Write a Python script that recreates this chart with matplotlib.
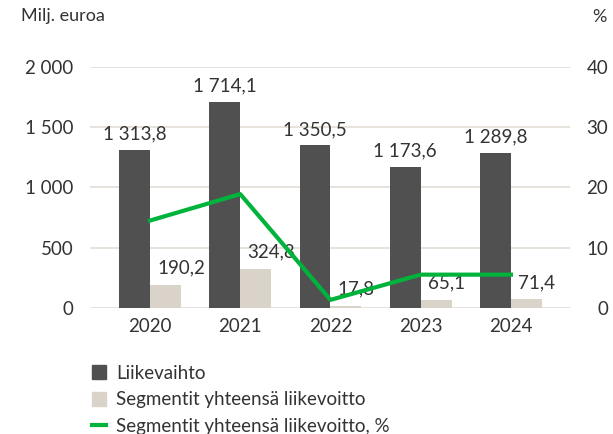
import matplotlib
matplotlib.use("Agg")
import matplotlib.pyplot as plt
from matplotlib.lines import Line2D
import numpy as np

# data
years = ["2020", "2021", "2022", "2023", "2024"]
liikevaihto = [1313.8, 1714.1, 1350.5, 1173.6, 1289.8]
liikevoitto = [190.2, 324.8, 17.8, 65.1, 71.4]
liikevoitto_pct = [14.5, 18.9, 1.3, 5.5, 5.5]
left_ticks = [0, 500, 1000, 1500, 2000]
left_ticklabels = ["0", "500", "1 000", "1 500", "2 000"]
right_ticks = [0, 10, 20, 30, 40]

DARK = "#505050"
BEIGE = "#d9d3ca"
GREEN = "#00b33c"
GRID = "#e3ded6"
TEXT = "#333333"

plt.rcParams["font.family"] = ["Lato", "DejaVu Sans"]
FS = 13.5

fig = plt.figure(figsize=(6.13, 4.34), dpi=100)
ax = fig.add_axes([90 / 613, 1 - 307.7 / 434, 480 / 613, 240.4 / 434])
ax2 = ax.twinx()

x = np.arange(len(years))
w = 0.343

ax.bar(x - w / 2, liikevaihto, w, color=DARK, zorder=3)
ax.bar(x + w / 2, liikevoitto, w, color=BEIGE, zorder=3)

for xi, v in zip(x, liikevaihto):
    ax.annotate(f"{v:,.1f}".replace(",", " ").replace(".", ","),
                (xi - w / 2, v), xytext=(0, 7.5), textcoords="offset points",
                ha="center", va="baseline", fontsize=FS, color=TEXT, zorder=5)
for xi, v in zip(x, liikevoitto):
    ax.annotate(f"{v:.1f}".replace(".", ","),
                (xi, v), xytext=(5, 8), textcoords="offset points",
                ha="left", va="baseline", fontsize=FS, color=TEXT, zorder=5)

ax.set_xlim(-0.665, 4.654)
ax.set_ylim(0, 2000)
ax.set_yticks(left_ticks)
ax.set_yticklabels(left_ticklabels)
ax.set_xticks(x)
ax.set_xticklabels(years)
ax.yaxis.grid(True, color=GRID, linewidth=1.2, zorder=0)
ax.set_axisbelow(True)
for s in ax.spines.values():
    s.set_visible(False)
ax.tick_params(axis="y", length=0, pad=12, labelsize=FS, labelcolor=TEXT)
ax.tick_params(axis="x", length=0, pad=7.5, labelsize=FS, labelcolor=TEXT)

ax2.plot(x, liikevoitto_pct, color=GREEN, linewidth=3, zorder=4)
ax2.set_ylim(0, 40)
ax2.set_yticks(right_ticks)
for s in ax2.spines.values():
    s.set_visible(False)
ax2.tick_params(axis="y", length=0, pad=27.5, labelsize=FS, labelcolor=TEXT)
for lab in ax2.get_yticklabels():
    lab.set_horizontalalignment("right")

fig.text(21 / 613, 1 - 21.5 / 434, "Milj. euroa", fontsize=FS - 0.5, color=TEXT,
         ha="left", va="baseline")
fig.text(607 / 613, 1 - 21.5 / 434, "%", fontsize=FS - 0.5, color=TEXT,
         ha="right", va="baseline")

handles = [
    Line2D([], [], marker="s", linestyle="none", markersize=10, color=DARK),
    Line2D([], [], marker="s", linestyle="none", markersize=10, color=BEIGE),
    Line2D([], [], color=GREEN, linewidth=3),
]
labels = ["Liikevaihto", "Segmentit yhteensä liikevoitto",
          "Segmentit yhteensä liikevoitto, %"]
fig.legend(handles, labels, loc="upper left",
           bbox_to_anchor=(92 / 613, 1 - 365 / 434), frameon=False,
           fontsize=FS, handlelength=0.75, handletextpad=0.55,
           labelspacing=0.5, borderpad=0, borderaxespad=0,
           labelcolor=TEXT)

fig.savefig("out.png", dpi=100)
